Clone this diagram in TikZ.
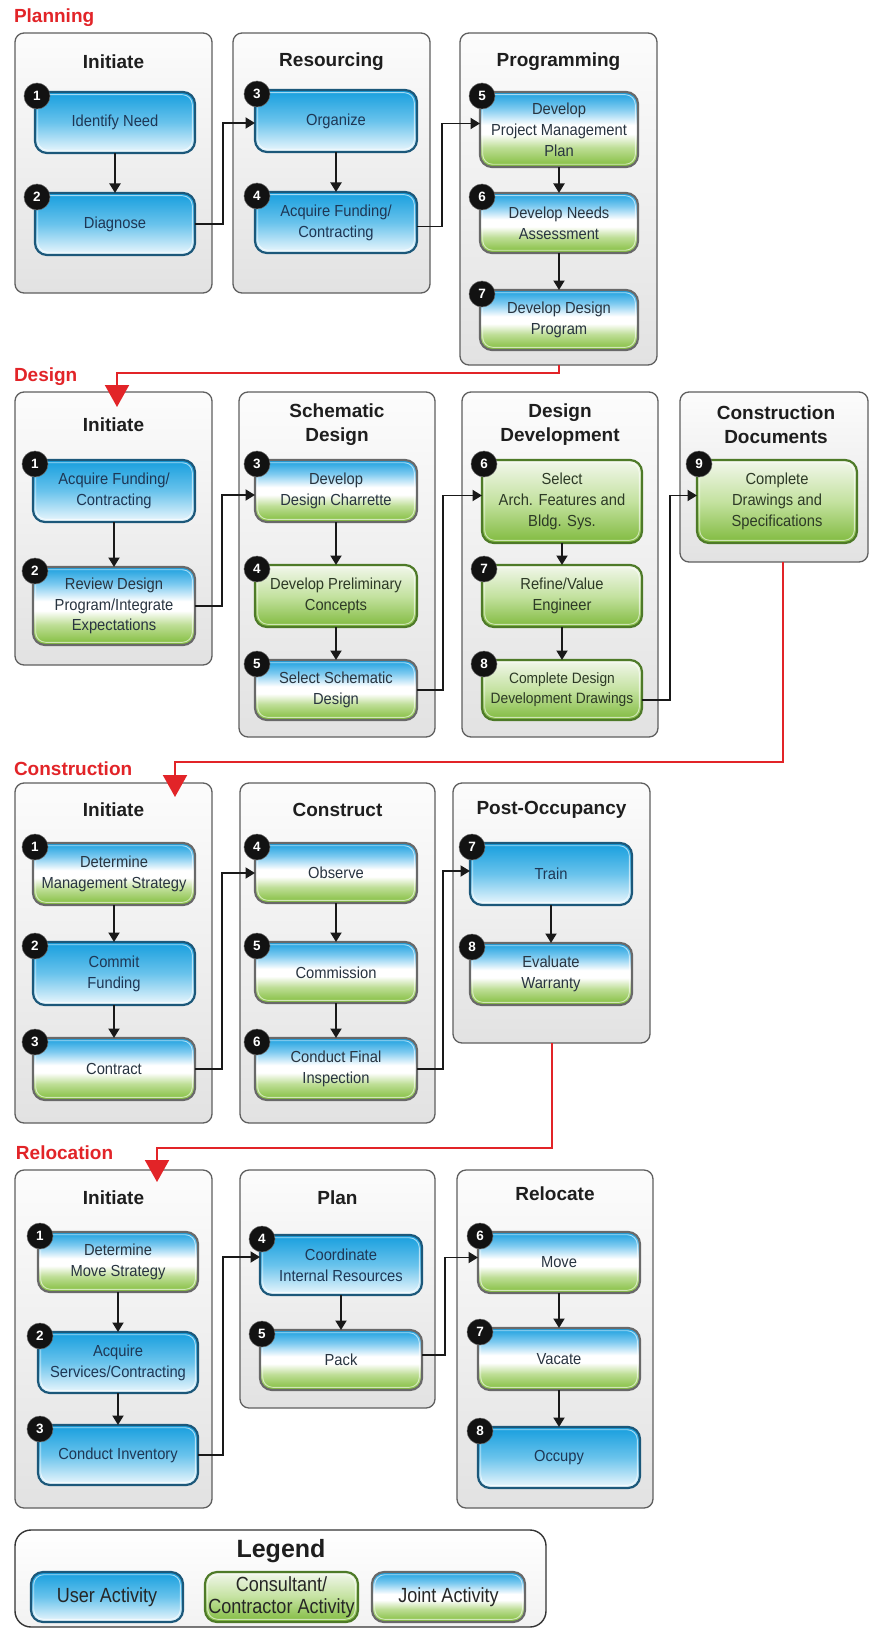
\documentclass[tikz,border=0pt]{standalone}
\usepackage{fontspec}
\setmainfont{Liberation Sans}
\newfontfamily\narrowsans[FakeStretch=0.92]{Liberation Sans}
\newfontfamily\legendsans[FakeStretch=0.88]{Liberation Sans}
\usetikzlibrary{arrows.meta}

% palette
\definecolor{phasered}{RGB}{226,36,40}
\definecolor{titlecol}{RGB}{30,30,30}
\definecolor{panelline}{RGB}{95,95,95}
\definecolor{paneltop}{RGB}{252,252,252}
\definecolor{panelbot}{RGB}{226,226,226}
\definecolor{usertop}{RGB}{22,158,222}
\definecolor{usermid}{RGB}{105,195,236}
\definecolor{userbot}{RGB}{238,248,253}
\definecolor{userline}{RGB}{28,88,122}
\definecolor{usertext}{RGB}{30,55,85}
\definecolor{jblue}{RGB}{24,158,222}
\definecolor{jbluel}{RGB}{125,202,240}
\definecolor{jgreenl}{RGB}{190,222,150}
\definecolor{jgreen}{RGB}{128,188,58}
\definecolor{jointline}{RGB}{105,105,105}
\definecolor{jointtext}{RGB}{40,52,64}
\definecolor{constop}{RGB}{242,247,236}
\definecolor{consmid}{RGB}{196,226,160}
\definecolor{consbot}{RGB}{128,186,62}
\definecolor{consline}{RGB}{78,122,40}
\definecolor{constext}{RGB}{45,58,38}
\definecolor{flowcol}{RGB}{25,25,25}
\definecolor{numblack}{RGB}{18,18,18}

% vertical shadings: 0bp is the bottom, the shape spans 25bp..75bp
\pgfdeclareverticalshading{panelshade}{100bp}{color(0bp)=(panelbot); color(25bp)=(panelbot); color(75bp)=(paneltop); color(100bp)=(paneltop)}
\pgfdeclareverticalshading{legendshade}{100bp}{color(0bp)=(panelbot!45!white); color(25bp)=(panelbot!45!white); color(75bp)=(white); color(100bp)=(white)}
\pgfdeclareverticalshading{usershade}{100bp}{color(0bp)=(userbot); color(25bp)=(userbot); color(50bp)=(usermid); color(75bp)=(usertop); color(100bp)=(usertop)}
\pgfdeclareverticalshading{jointshade}{100bp}{color(0bp)=(jgreen); color(25bp)=(jgreen); color(38bp)=(jgreenl); color(47bp)=(white); color(53bp)=(white); color(64bp)=(jbluel); color(75bp)=(jblue); color(100bp)=(jblue)}
\pgfdeclareverticalshading{consshade}{100bp}{color(0bp)=(consbot); color(25bp)=(consbot); color(50bp)=(consmid); color(75bp)=(constop); color(100bp)=(constop)}

\tikzset{
  every node/.style={inner sep=0pt, outer sep=0pt},
  panel/.style={draw=panelline, line width=1.3pt, rounded corners=9pt, shading=panelshade},
  ptitle/.style={font=\fontsize{19}{24}\selectfont\bfseries, text=titlecol, align=center},
  phase/.style={font=\fontsize{19}{22}\selectfont\bfseries, text=phasered, anchor=west},
  act/.style={line width=2.2pt, rounded corners=12pt, align=center,
    font=\narrowsans\fontsize{16}{20.8}\selectfont},
  user/.style={act, draw=userline, shading=usershade, text=usertext},
  joint/.style={act, draw=jointline, shading=jointshade, text=jointtext},
  cons/.style={act, draw=consline, shading=consshade, text=constext},
  gloss/.style={draw=white, opacity=.6, line width=.9pt, rounded corners=10pt},
  numdot/.style={circle, fill=numblack, draw=black!60, line width=.5pt, minimum size=26pt,
    text=white, font=\fontsize{13.5}{13.5}\selectfont\bfseries},
  flow/.style={draw=flowcol, line width=1.9pt, -{Triangle[width=11pt,length=9.5pt]}},
  phaseflow/.style={draw=phasered, line width=2pt, -{Triangle[width=24pt,length=22pt]}},
  legtext/.style={font=\legendsans\fontsize{20.5}{22}\selectfont, text=black!85},
}

% panel: name, x1, y1, x2, y2
\newcommand\stagepanel[5]{%
  \pgfmathsetmacro\pcx{(#2+#4)/2}\pgfmathsetmacro\pcy{(#3+#5)/2}%
  \pgfmathsetmacro\pw{#4-#2}\pgfmathsetmacro\ph{#5-#3}%
  \node[panel, minimum width=\pw pt, minimum height=\ph pt] (#1) at (\pcx,\pcy) {};}

% activity box: style, name, x1, y1, x2, y2, number, text
\newcommand\actbox[8]{%
  \pgfmathsetmacro\bcx{(#3+#5)/2}\pgfmathsetmacro\bcy{(#4+#6)/2}%
  \pgfmathsetmacro\bw{#5-#3}\pgfmathsetmacro\bh{#6-#4}%
  \node[#1, minimum width=\bw pt, minimum height=\bh pt] (#2) at (\bcx,\bcy) {#8};
  \draw[gloss] (#3+2.7,#4+2.7) rectangle (#5-2.7,#6-2.7);
  \node[numdot] (#2n) at (#3+2,#4+4) {#7};}

\begin{document}
\begin{tikzpicture}[x=1pt, y=-1pt]
\useasboundingbox (0,0) rectangle (870,1629);
\fill[white] (0,0) rectangle (870,1629);

% ---------------- Planning ----------------
\node[phase] (lplan) at (14,18) {Planning};
\stagepanel{pinit}{15}{33}{212}{293}
\stagepanel{pres}{233}{33}{430}{293}
\stagepanel{pprog}{460}{33}{657}{365}
\node[ptitle] (tpinit) at (113.5,62) {Initiate};
\node[ptitle] (tpres) at (331.5,62) {Resourcing};
\node[ptitle] (tpprog) at (558.5,62) {Programming};

\actbox{user}{pl1}{35}{92}{195}{153}{1}{Identify Need}
\actbox{user}{pl2}{35}{193}{195}{255}{2}{Diagnose}
\actbox{user}{pl3}{255}{90}{417}{152}{3}{Organize}
\actbox{user}{pl4}{255}{192}{417}{253}{4}{Acquire Funding/\\Contracting}
\actbox{joint}{pl5}{480}{92}{638}{167}{5}{Develop\\Project Management\\Plan}
\actbox{joint}{pl6}{480}{193}{638}{253}{6}{Develop Needs\\Assessment}
\actbox{joint}{pl7}{480}{290}{638}{350}{7}{Develop Design\\Program}

\draw[flow] (pl1.south) -- (pl2.north);
\draw[flow] (pl3.south) -- (pl4.north);
\draw[flow] (pl5.south) -- (pl6.north);
\draw[flow] (pl6.south) -- (pl7.north);
\draw[flow] (pl2.east) -- ++(28,0) |- ([yshift=-2pt]pl3.west);
\draw[flow] ([yshift=-4pt]pl4.east) -- ++(25,0) |- ([yshift=6pt]pl5.west);

% ---------------- Design ----------------
\node[phase] (ldes) at (14,377) {Design};
\stagepanel{dinit}{15}{392}{212}{665}
\stagepanel{dsch}{239}{392}{435}{737}
\stagepanel{ddev}{462}{392}{658}{737}
\stagepanel{dcon}{680}{392}{868}{562}
\node[ptitle] (tdinit) at (113.5,425) {Initiate};
\node[ptitle] (tdsch) at (337,425) {Schematic\\Design};
\node[ptitle] (tddev) at (560,425) {Design\\Development};
\node[ptitle] (tdcon) at (776,425) {Construction\\Documents};

\actbox{user}{de1}{33}{460}{195}{522}{1}{Acquire Funding/\\Contracting}
\actbox{joint}{de2}{33}{567}{195}{645}{2}{Review Design\\Program/Integrate\\Expectations}
\actbox{joint}{de3}{255}{460}{417}{522}{3}{Develop\\Design Charrette}
\actbox{cons}{de4}{255}{565}{417}{627}{4}{Develop Preliminary\\Concepts}
\actbox{joint}{de5}{255}{660}{417}{720}{5}{Select Schematic\\Design}
\actbox{cons}{de6}{482}{460}{642}{543}{6}{Select\\Arch. Features and\\Bldg. Sys.}
\actbox{cons}{de7}{482}{565}{642}{627}{7}{Refine/Value\\Engineer}
\actbox{cons, font=\narrowsans\fontsize{15}{20}\selectfont}{de8}{482}{660}{642}{720}{8}{Complete Design\\Development Drawings}
\actbox{cons}{de9}{697}{460}{857}{543}{9}{Complete\\Drawings and\\Specifications}

\draw[flow] (de1.south) -- (de2.north);
\draw[flow] (de3.south) -- (de4.north);
\draw[flow] (de4.south) -- (de5.north);
\draw[flow] (de6.south) -- (de7.north);
\draw[flow] (de7.south) -- (de8.north);
\draw[flow] (de2.east) -- ++(27,0) |- ([yshift=-4pt]de3.west);
\draw[flow] (de5.east) -- ++(26,0) |- ([yshift=6pt]de6.west);
\draw[flow] ([yshift=-10pt]de8.east) -- ++(28,0) |- ([yshift=6pt]de9.west);

\coordinate (dtip) at (117,407);
\draw[phaseflow] (pprog.south) -- ++(0,8) -| (dtip);

% ---------------- Construction ----------------
\node[phase] (lcon) at (14,769) {Construction};
\stagepanel{cinit}{15}{783}{212}{1123}
\stagepanel{ccon}{240}{783}{435}{1123}
\stagepanel{cpost}{453}{783}{650}{1043}
\node[ptitle] (tcinit) at (113.5,810) {Initiate};
\node[ptitle] (tccon) at (337.5,810) {Construct};
\node[ptitle] (tcpost) at (551.5,810) {Post-Occupancy};

\actbox{joint}{co1}{33}{843}{195}{905}{1}{Determine\\Management Strategy}
\actbox{user}{co2}{33}{942}{195}{1005}{2}{Commit\\Funding}
\actbox{joint}{co3}{33}{1038}{195}{1100}{3}{Contract}
\actbox{joint}{co4}{255}{843}{417}{903}{4}{Observe}
\actbox{joint}{co5}{255}{942}{417}{1003}{5}{Commission}
\actbox{joint}{co6}{255}{1038}{417}{1100}{6}{Conduct Final\\Inspection}
\actbox{user}{co7}{470}{843}{632}{905}{7}{Train}
\actbox{joint}{co8}{470}{943}{632}{1005}{8}{Evaluate\\Warranty}

\draw[flow] (co1.south) -- (co2.north);
\draw[flow] (co2.south) -- (co3.north);
\draw[flow] (co4.south) -- (co5.north);
\draw[flow] (co5.south) -- (co6.north);
\draw[flow] (co7.south) -- (co8.north);
\draw[flow] (co3.east) -- ++(27,0) |- (co4.west);
\draw[flow] (co6.east) -- ++(26,0) |- ([yshift=3pt]co7.west);

\coordinate (ctip) at (175,797);
\draw[phaseflow] ([xshift=9pt]dcon.south) -- ++(0,200) -| (ctip);

% ---------------- Relocation ----------------
\node[phase] (lrel) at (16,1153) {Relocation};
\stagepanel{rinit}{15}{1170}{212}{1508}
\stagepanel{rplan}{240}{1170}{435}{1408}
\stagepanel{rrel}{457}{1170}{653}{1508}
\node[ptitle] (trinit) at (113.5,1198) {Initiate};
\node[ptitle] (trplan) at (337.5,1198) {Plan};
\node[ptitle] (trrel) at (555,1194) {Relocate};

\actbox{joint}{re1}{38}{1232}{198}{1292}{1}{Determine\\Move Strategy}
\actbox{user}{re2}{38}{1332}{198}{1393}{2}{Acquire\\Services/Contracting}
\actbox{user}{re3}{38}{1425}{198}{1485}{3}{Conduct Inventory}
\actbox{user}{re4}{260}{1235}{422}{1295}{4}{Coordinate\\Internal Resources}
\actbox{joint}{re5}{260}{1330}{422}{1390}{5}{Pack}
\actbox{joint}{re6}{478}{1232}{640}{1293}{6}{Move}
\actbox{joint}{re7}{478}{1328}{640}{1390}{7}{Vacate}
\actbox{user}{re8}{478}{1427}{640}{1488}{8}{Occupy}

\draw[flow] (re1.south) -- (re2.north);
\draw[flow] (re2.south) -- (re3.north);
\draw[flow] (re4.south) -- (re5.north);
\draw[flow] (re6.south) -- (re7.north);
\draw[flow] (re7.south) -- (re8.north);
\draw[flow] (re3.east) -- ++(25,0) |- ([yshift=8pt]re4.west);
\draw[flow] ([yshift=5pt]re5.east) -- ++(23,0) |- ([yshift=5pt]re6.west);

\coordinate (rtip) at (157,1182);
\draw[phaseflow] (cpost.south) -- ++(0,105) -| (rtip);

% ---------------- Legend ----------------
\node[draw=black!80, line width=1.4pt, rounded corners=16pt, shading=legendshade,
      minimum width=531pt, minimum height=97pt] (legend) at (280.5,1578.5) {};
\node[font=\fontsize{25}{25}\selectfont\bfseries, text=titlecol] (legtitle) at (281,1551) {Legend};
\node[user, legtext, minimum width=152pt, minimum height=50pt] (lguser) at (107,1597) {User Activity};
\draw[gloss] (33.7,1574.7) rectangle (180.3,1619.3);
\node[cons, legtext, minimum width=153pt, minimum height=50pt] (lgcons) at (281.5,1597) {Consultant/\\Contractor Activity};
\draw[gloss] (207.7,1574.7) rectangle (355.3,1619.3);
\node[joint, legtext, minimum width=153pt, minimum height=50pt] (lgjoint) at (448.5,1597) {Joint Activity};
\draw[gloss] (374.7,1574.7) rectangle (522.3,1619.3);
\end{tikzpicture}
\end{document}
